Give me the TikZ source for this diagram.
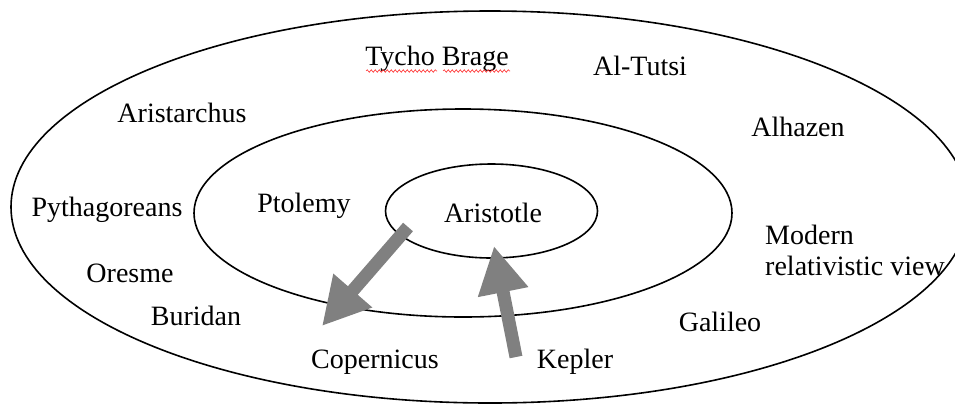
\documentclass[tikz,border=0pt]{standalone}
\usepackage{fontspec}
\setmainfont{Liberation Serif}
\usetikzlibrary{shapes.geometric,arrows.meta,decorations.pathmorphing}
\tikzset{
  ring/.style={draw=black, line width=1.6pt, ellipse, inner sep=0pt},
  lbl/.style={font=\fontsize{28}{31}\selectfont, inner sep=0pt, text=black},
  bigarrow/.style={draw=gray, line width=13pt,
     -{Triangle[length=47pt,width=48pt]}},
  spell/.style={draw=red!80, line width=0.6pt,
     decorate, decoration={snake, segment length=4pt, amplitude=1.3pt}}
}
\begin{document}
\begin{tikzpicture}[x=1pt,y=-1pt]
\useasboundingbox (0,0) rectangle (955,405);
\fill[white] (0,0) rectangle (955,405);
% rings
\node[ring, minimum width=958pt, minimum height=392pt] (outer) at (490,207) {};
\node[ring, minimum width=538pt, minimum height=208pt] (middle) at (463,213) {};
\node[ring, minimum width=212pt, minimum height=94pt] (inner) at (491.5,211) {};
% labels
\node[lbl] (tycho) at (437,59) {Tycho Brage};
\node[lbl] (tutsi) at (640,66) {Al-Tutsi};
\node[lbl] (aristarchus) at (182,113) {Aristarchus};
\node[lbl] (alhazen) at (798,127) {Alhazen};
\node[lbl] (pyth) at (107,210) {Pythagoreans};
\node[lbl] (ptolemy) at (304,206) {Ptolemy};
\node[lbl] (aristotle) at (493,213) {Aristotle};
\node[lbl, align=left, anchor=west] (modern) at (765,250) {Modern\\relativistic view};
\node[lbl] (oresme) at (130,273) {Oresme};
\node[lbl] (buridan) at (196,316) {Buridan};
\node[lbl] (galileo) at (720,322) {Galileo};
\node[lbl] (copernicus) at (375,362) {Copernicus};
\node[lbl] (kepler) at (575,362) {Kepler};
% spell-check underline
\coordinate (u1a) at (366,71); \coordinate (u1b) at (437,71);
\coordinate (u2a) at (443,71); \coordinate (u2b) at (510,71);
\draw[spell] (u1a) -- (u1b);
\draw[spell] (u2a) -- (u2b);
% arrows
\coordinate (a1s) at (408,227);
\coordinate (a1e) at (322,326);
\coordinate (a2s) at (516,357);
\coordinate (a2e) at (494,246);
\draw[bigarrow] (a1s) -- (a1e);
\draw[bigarrow] (a2s) -- (a2e);
\end{tikzpicture}
\end{document}
